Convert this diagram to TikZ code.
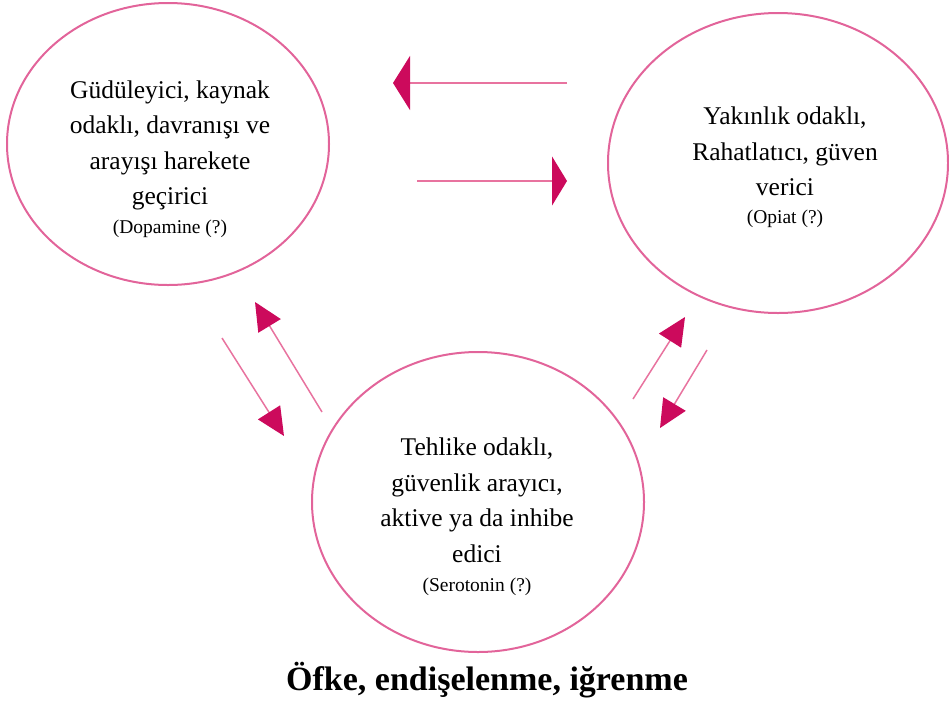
\documentclass[tikz,border=0pt]{standalone}
\usepackage{fontspec}
\setmainfont{Liberation Serif}
\usetikzlibrary{shapes.geometric,arrows.meta}
\definecolor{ringpink}{HTML}{E2649A}
\definecolor{linepink}{HTML}{E8739F}
\definecolor{headmag}{HTML}{CC0A5C}
\tikzset{
  ring/.style={draw=ringpink, line width=2pt, ellipse, inner sep=0pt, outer sep=0pt},
  blocktext/.style={align=center, inner sep=0pt, font=\fontsize{25.5}{35.5}\selectfont},
  flowline/.style={draw=linepink, line width=1.5pt},
  bigheadL/.style={-{Triangle[length=17pt,width=54pt,color=headmag,fill=headmag]}},
  bigheadR/.style={-{Triangle[length=15pt,width=49pt,color=headmag,fill=headmag]}},
  diaghead/.style={-{Triangle[length=28pt,width=26pt,color=headmag,fill=headmag]}}
}
\begin{document}
\begin{tikzpicture}[x=1pt,y=-1pt]
\useasboundingbox (0,0) rectangle (949,715);
% ellipses
\node[ring, minimum width=322pt, minimum height=282pt] (L) at (168,144) {};
\node[ring, minimum width=340pt, minimum height=300pt] (R) at (778,163) {};
\node[ring, minimum width=332pt, minimum height=300pt] (B) at (478,502) {};
% texts
\node[blocktext] (Ltxt) at (170,159) {Güdüleyici, kaynak\\odaklı, davranışı ve\\arayışı harekete\\geçirici\\[-7pt]{\fontsize{19.5}{22}\selectfont (Dopamine (?)}};
\node[blocktext] (Rtxt) at (785,167) {Yakınlık odaklı,\\Rahatlatıcı, güven\\verici\\[-8pt]{\fontsize{19.5}{22}\selectfont (Opiat (?)}};
\node[blocktext] (Btxt) at (477,517) {Tehlike odaklı,\\güvenlik arayıcı,\\aktive ya da inhibe\\edici\\[-6pt]{\fontsize{19.5}{22}\selectfont (Serotonin (?)}};
\node[inner sep=0pt, anchor=base, font=\fontsize{34}{40}\selectfont\bfseries] (title) at (487,690) {Öfke, endişelenme, iğrenme};
% arrow end points
\coordinate (a1s) at (567,83);  \coordinate (a1e) at (393,83);
\coordinate (a2s) at (417,181); \coordinate (a2e) at (567,181);
\coordinate (a3s) at (322,412); \coordinate (a3e) at (255,302);
\coordinate (a4s) at (222,338); \coordinate (a4e) at (284,436);
\coordinate (a5s) at (633,399); \coordinate (a5e) at (685,317);
\coordinate (a6s) at (707,350); \coordinate (a6e) at (660,428);
% arrows
\draw[flowline, bigheadL] (a1s) -- (a1e);
\draw[flowline, bigheadR] (a2s) -- (a2e);
\draw[flowline, diaghead] (a3s) -- (a3e);
\draw[flowline, diaghead] (a4s) -- (a4e);
\draw[flowline, diaghead] (a5s) -- (a5e);
\draw[flowline, diaghead] (a6s) -- (a6e);
\end{tikzpicture}
\end{document}
